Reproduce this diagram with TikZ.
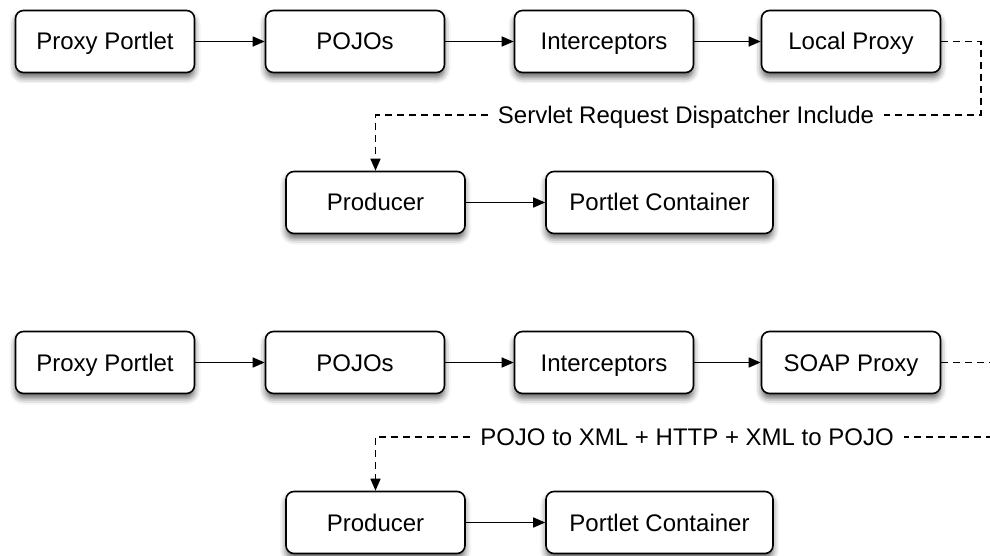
\documentclass[tikz,border=0pt]{standalone}
\usepackage{fontspec}
\setmainfont{Liberation Sans}
\usetikzlibrary{arrows.meta,positioning,shadows.blur}

\begin{document}
\begin{tikzpicture}[
  x=1pt, y=-1pt,
  box/.style={draw, line width=1.6pt, rounded corners=8pt, fill=white,
              minimum width=179pt, minimum height=62pt, inner sep=0pt,
              text height=17pt, text depth=0pt,
              font=\fontsize{24}{28}\selectfont,
              blur shadow={shadow xshift=0pt, shadow yshift=-5pt,
                           shadow blur radius=6pt, shadow opacity=60}},
  wide/.style={minimum width=227pt},
  lbl/.style={font=\fontsize{24}{28}\selectfont, inner sep=10pt,
              text height=17pt, text depth=0pt},
  arrow/.style={-{Triangle[length=12pt, width=10pt]}, line width=1.6pt},
  link/.style={line width=1.6pt, dash pattern=on 7pt off 5pt}
]
  \useasboundingbox (0,0) rectangle (990,556);
  \clip (0,0) rectangle (990,556);

  % upper chain: local proxy
  \node[box] (pp1) at (105, 41.5) {Proxy Portlet};
  \node[box] (pojo1) at (355, 41.5) {POJOs};
  \node[box] (icp1) at (604, 41.5) {Interceptors};
  \node[box] (lproxy) at (851, 41.5) {Local Proxy};
  \draw[arrow] (pp1) -- (pojo1);
  \draw[arrow] (pojo1) -- (icp1);
  \draw[arrow] (icp1) -- (lproxy);
  % dispatch back to the producer
  \node[lbl] (sdi) at (686, 115) {Servlet Request Dispatcher Include};
  \coordinate (r1) at (981, 115);
  \node[box] (prod1) at (375.5, 202.5) {Producer};
  \node[box, wide] (pc1) at (659.5, 202.5) {Portlet Container};
  \draw[link] (lproxy.east) -| (r1) -- (sdi.east);
  \draw[link, arrow] (sdi.west) -| (prod1.north);
  \draw[arrow] (prod1) -- (pc1);

  % lower chain: soap proxy
  \node[box] (pp2) at (105, 362.5) {Proxy Portlet};
  \node[box] (pojo2) at (355, 362.5) {POJOs};
  \node[box] (icp2) at (604, 362.5) {Interceptors};
  \node[box] (sproxy) at (851, 362.5) {SOAP Proxy};
  \draw[arrow] (pp2) -- (pojo2);
  \draw[arrow] (pojo2) -- (icp2);
  \draw[arrow] (icp2) -- (sproxy);
  % web service round trip
  \node[lbl] (pxh) at (687, 437) {POJO to XML + HTTP + XML to POJO};
  \coordinate (r2) at (1002, 437);
  \node[box] (prod2) at (375.5, 522.5) {Producer};
  \node[box, wide] (pc2) at (659.5, 522.5) {Portlet Container};
  \draw[link] (sproxy.east) -| (r2) -- (pxh.east);
  \draw[link, arrow] (pxh.west) -| (prod2.north);
  \draw[arrow] (prod2) -- (pc2);
\end{tikzpicture}
\end{document}
